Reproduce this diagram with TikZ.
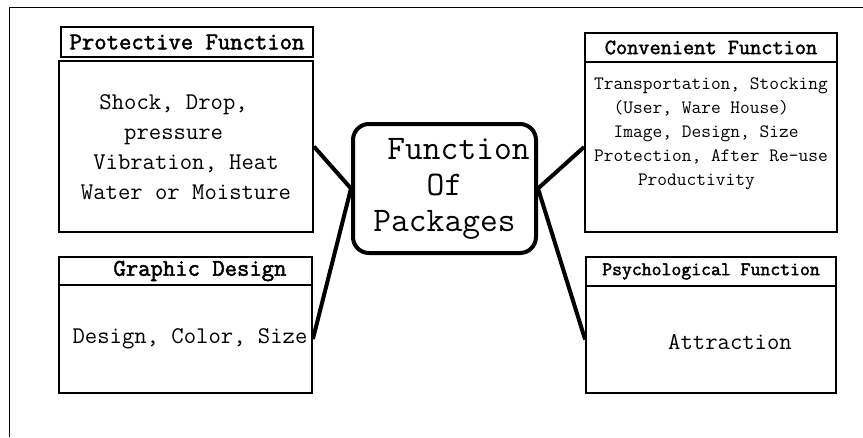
\documentclass[tikz,border=0pt]{standalone}
\usepackage{fontspec}
\newfontfamily\ttbold{Latin Modern Mono}[FakeBold=2]
\begin{document}
\begin{tikzpicture}[x=1pt,y=-1pt,
  box/.style={draw, line width=1.8pt, inner sep=0pt},
  ttl/.style={box, align=center},
  txt/.style={inner sep=0pt, align=center},
  conn/.style={line width=4pt}]
\useasboundingbox (0,0) rectangle (863,437);
% outer frame
\draw[line width=1pt] (9,437) -- (9,7) -- (863,7);
% Protective
\node[ttl, minimum width=252pt, minimum height=30pt, font=\ttbold\fontsize{24}{25}\selectfont] (protT) at (187,42) {Protective Function};
\node[box, minimum width=254pt, minimum height=171pt] (protB) at (186,146.5) {};
\node[txt, font=\ttfamily\fontsize{24}{30}\selectfont] (protX) at (186,147.5) {Shock, Drop,\phantom{xx}\\pressure\phantom{xx}\\Vibration, Heat\\Water or Moisture};
% Graphic design
\node[ttl, minimum width=253pt, minimum height=28pt, font=\ttbold\fontsize{24}{25}\selectfont] (grT) at (185.5,271) {\hspace*{29pt}Graphic Design};
\node[box, minimum width=253pt, minimum height=108pt] (grB) at (185.5,339) {};
\node[txt, font=\ttfamily\fontsize{24}{30}\selectfont] (grX) at (190,339) {Design, Color, Size};
% Convenient
\node[ttl, minimum width=252pt, minimum height=29pt, font=\ttbold\fontsize{21.7}{23}\selectfont] (convT) at (711,47.5) {Convenient Function};
\node[box, minimum width=252pt, minimum height=170pt] (convB) at (711,147) {};
\node[txt, font=\ttfamily\fontsize{18.9}{24}\selectfont] (convX) at (711,133.5) {Transportation, Stocking\\(User, Ware House)\phantom{xx}\\Image, Design, Size\phantom{x}\\Protection, After Re-use\\Productivity\phantom{xxx}};
% Psychological
\node[ttl, minimum width=250pt, minimum height=29pt, font=\ttbold\fontsize{19.2}{21}\selectfont] (psyT) at (711,271.5) {Psychological Function};
\node[box, minimum width=250pt, minimum height=107pt] (psyB) at (711,339.5) {};
\node[txt, font=\ttfamily\fontsize{24}{30}\selectfont] (psyX) at (730,342) {Attraction};
% Center
\node[draw, line width=4pt, rounded corners=16pt, inner sep=0pt, minimum width=183pt, minimum height=129pt, align=center, font=\ttfamily\fontsize{34.5}{36}\selectfont] (ctr) at (444.5,188.5) {\hspace*{28pt}Function\\Of\\Packages};
% connectors
\draw[conn] (ctr.west) -- (protB.east);
\draw[conn] (ctr.west) -- (grB.east);
\draw[conn] (ctr.east) -- (convB.west);
\draw[conn] (ctr.east) -- (psyB.west);
\end{tikzpicture}
\end{document}
